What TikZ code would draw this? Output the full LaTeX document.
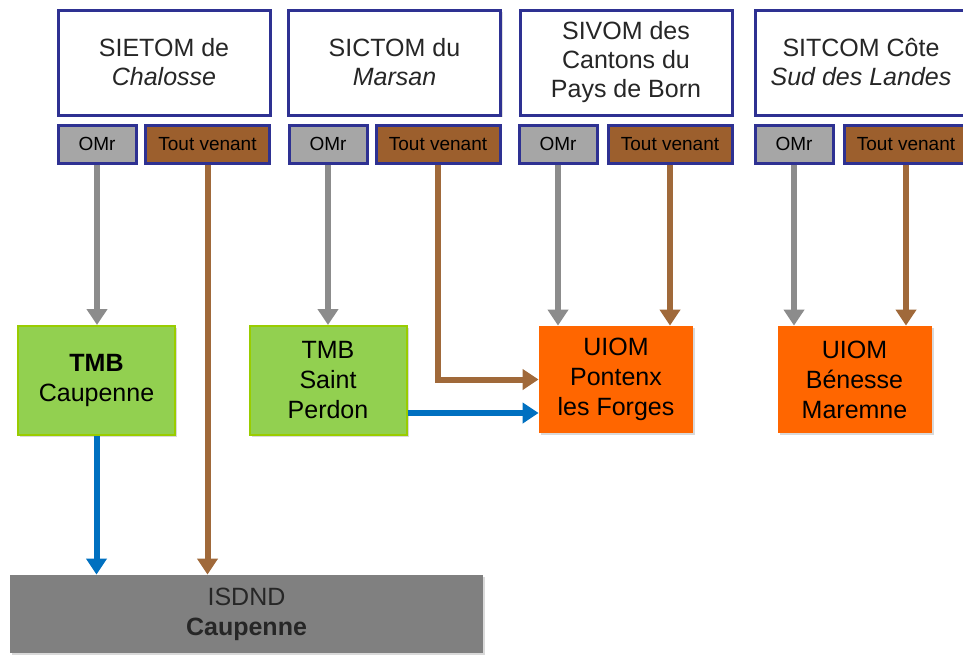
\documentclass[tikz,border=0pt]{standalone}
\usepackage{fontspec}
\setmainfont{Liberation Sans}
\usetikzlibrary{positioning,calc}
\usetikzlibrary{arrows.meta,shadows}
\definecolor{SynNavy}{RGB}{46,49,146}
\definecolor{OmrGray}{RGB}{166,166,166}
\definecolor{TvBrown}{RGB}{156,95,45}
\definecolor{FlowBrown}{RGB}{160,105,58}
\definecolor{FlowGray}{RGB}{140,140,140}
\definecolor{FlowBlue}{RGB}{0,112,192}
\definecolor{TmbGreen}{RGB}{146,208,80}
\definecolor{TmbEdge}{RGB}{153,204,0}
\definecolor{UiomOrange}{RGB}{255,102,0}
\definecolor{IsdGray}{RGB}{128,128,128}
\definecolor{TxtDark}{RGB}{38,38,38}
\tikzset{
	synd/.style={draw=SynNavy,fill=white,line width=1.5pt,inner sep=0pt,align=center,
		minimum width=106pt,minimum height=52.5pt,text=TxtDark,
		font=\fontsize{12.5}{14.5}\selectfont,
		drop shadow={shadow xshift=1pt,shadow yshift=-1pt,opacity=0.25}},
	flux/.style={draw=SynNavy,line width=1.5pt,inner sep=0pt,minimum height=19pt,
		text=black,font=\fontsize{9.5}{11}\selectfont},
	omr/.style={flux,fill=OmrGray,minimum width=39pt},
	tv/.style={flux,fill=TvBrown,minimum width=62pt},
	site/.style={inner sep=0pt,align=center,text=black,
		font=\fontsize{12.5}{15}\selectfont,
		drop shadow={shadow xshift=1pt,shadow yshift=-1pt,opacity=0.3}},
	tmb/.style={site,fill=TmbGreen,draw=TmbEdge,line width=1pt,
		minimum width=78.5pt,minimum height=54.5pt},
	uiom/.style={site,fill=UiomOrange,minimum width=77pt,minimum height=53.5pt},
	isd/.style={site,fill=IsdGray,text=TxtDark,minimum width=236.5pt,minimum height=39pt},
	arr/.style={line width=3pt,-{Triangle[width=10pt,length=8pt]}},
	fgray/.style={arr,draw=FlowGray,FlowGray},
	fbrown/.style={arr,draw=FlowBrown,FlowBrown},
	fblue/.style={arr,draw=FlowBlue,FlowBlue},
}

\begin{document}
\begin{tikzpicture}[x=0.5pt,y=-0.5pt]
	\useasboundingbox (0,0) rectangle (963,655);
	\clip (0,0) rectangle (963,655);
	% syndicats
	\node[synd] (sA) at (164,62.5) {SIETOM de\\\textit{Chalosse}};
	\node[synd] (sB) at (394.5,62.5) {SICTOM du\\\textit{Marsan}};
	\node[synd] (sC) at (626,62.5) {SIVOM des\\Cantons du\\Pays de Born};
	\node[synd] (sD) at (861,62.5) {SITCOM Côte\\\textit{Sud des Landes}};
	% flux
	\node[omr] (omrA) at (97,144) {OMr};
	\node[tv] (tvA) at (207.5,144) {Tout venant};
	\node[omr] (omrB) at (328,144) {OMr};
	\node[tv] (tvB) at (438,144) {Tout venant};
	\node[omr] (omrC) at (558,144) {OMr};
	\node[tv] (tvC) at (670,144) {Tout venant};
	\node[omr] (omrD) at (794,144) {OMr};
	\node[tv] (tvD) at (906,144) {Tout venant};
	% installations
	\node[tmb] (tmbA) at (96.5,380.5) {\textbf{TMB}\\Caupenne};
	\node[tmb] (tmbB) at (328,380.5) {TMB\\Saint\\Perdon};
	\node[uiom] (uiomA) at (616,379.5) {UIOM\\Pontenx\\les Forges};
	\node[uiom] (uiomB) at (854.5,379.5) {UIOM\\Bénesse\\Maremne};
	\node[isd] (isd) at (246.5,614) {ISDND\\\textbf{Caupenne}};
	\coordinate (blueY) at (0,413);
	% connecteurs
	\draw[fgray] (omrA) -- (omrA |- tmbA.north);
	\draw[fbrown] (tvA) -- (tvA |- isd.north);
	\draw[fgray] (omrB) -- (omrB |- tmbB.north);
	\draw[fbrown] (tvB) |- (uiomA.west);
	\draw[fgray] (omrC) -- (omrC |- uiomA.north);
	\draw[fbrown] (tvC) -- (tvC |- uiomA.north);
	\draw[fgray] (omrD) -- (omrD |- uiomB.north);
	\draw[fbrown] (tvD) -- (tvD |- uiomB.north);
	\draw[fblue] (tmbA) -- (tmbA |- isd.north);
	\draw[fblue] (tmbB.east |- blueY) -- (uiomA.west |- blueY);
\end{tikzpicture}
\end{document}
